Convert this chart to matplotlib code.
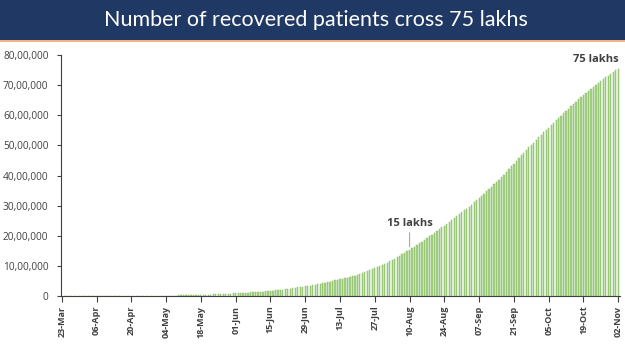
import matplotlib
matplotlib.use("Agg")
import matplotlib.pyplot as plt
from matplotlib.patches import Rectangle
from matplotlib.ticker import FuncFormatter
import datetime as dt

start = dt.date(2020, 3, 23)

recovered = [
    # Mar 23-31
    40, 43, 45, 66, 79, 95, 100, 124, 150,
    # Apr
    156, 169, 191, 267, 326, 352, 411, 473, 565, 655,
    765, 857, 1036, 1190, 1344, 1515, 1767, 2015, 2302, 2547,
    3252, 3870, 4325, 4749, 5063, 5804, 6185, 7027, 7697, 8325,
    # May
    9065, 10019, 10633, 11707, 12727, 14183, 15267, 16540, 17847, 19358,
    20917, 22455, 24386, 26235, 27920, 30153, 34109, 36824, 39174, 42298,
    45300, 48534, 51784, 54441, 57721, 60491, 64426, 67692, 71106, 82370, 86984,
    # Jun
    91819, 95527, 100303, 104107, 109462, 114073, 119293, 124095, 129215, 135206,
    141029, 147195, 154330, 162379, 169798, 180013, 186935, 194325, 204711, 213831,
    227756, 237196, 248190, 258685, 271697, 285637, 295881, 309713, 321723, 334822,
    # Jul
    347979, 359860, 379892, 394227, 409083, 424433, 439948, 456831, 476378, 495513,
    515386, 534621, 553471, 571460, 592032, 612815, 635757, 653751, 677423, 700087,
    724578, 753050, 782607, 817209, 849432, 885577, 917568, 952744, 988030, 1020582, 1057805,
    # Aug
    1094374, 1145629, 1186203, 1230509, 1282215, 1328336, 1378105, 1427005, 1480884, 1535743,
    1583489, 1639599, 1695982, 1751555, 1808936, 1862258, 1919842, 1977779, 2037870, 2096664,
    2158946, 2222577, 2280566, 2338035, 2404585, 2467758, 2523771, 2583948, 2648998, 2713933, 2774801,
    # Sep
    2839882, 2901908, 2970492, 3037151, 3107223, 3180865, 3250429, 3324466, 3398844, 3471783,
    3542663, 3624196, 3702595, 3780107, 3859399, 3942360, 4025079, 4112551, 4208431, 4303043,
    4397330, 4497867, 4587613, 4674987, 4756164, 4841662, 4941627, 5016520, 5087478, 5187825,
    # Oct
    5273201, 5352078, 5427706, 5501146, 5586703, 5662490, 5744693, 5827704, 5906069, 5988822,
    6077976, 6149535, 6224011, 6301927, 6383441, 6453779, 6524595, 6601323, 6663608, 6733328,
    6795103, 6874518, 6948497, 7016046, 7078123, 7137228, 7201070, 7259509, 7315989, 7373375, 7432829,
    # Nov
    7491513, 7544798,
]

dates = [start + dt.timedelta(days=i) for i in range(len(recovered))]
tick_labels = ["23-Mar", "06-Apr", "20-Apr", "04-May", "18-May", "01-Jun", "15-Jun",
               "29-Jun", "13-Jul", "27-Jul", "10-Aug", "24-Aug", "07-Sep", "21-Sep",
               "05-Oct", "19-Oct", "02-Nov"]
yticks = [0, 1000000, 2000000, 3000000, 4000000, 5000000, 6000000, 7000000, 8000000]
ann_15_label = "15 lakhs"
ann_15_date = "10-Aug"
ann_75_label = "75 lakhs"
title = "Number of recovered patients cross 75 lakhs"

plt.rcParams['font.family'] = ['Open Sans', 'DejaVu Sans']

fig = plt.figure(figsize=(6.25, 3.51), dpi=100)
fig.patch.set_facecolor("white")

# Title banner
fig.patches.append(Rectangle((0, 1 - 40/351), 1, 40/351, transform=fig.transFigure,
                             facecolor="#1f3864", edgecolor="none", zorder=0))
fig.patches.append(Rectangle((0, 1 - 42/351), 1, 2/351, transform=fig.transFigure,
                             facecolor="#f4b183", edgecolor="none", zorder=0))
fig.text(0.505, 1 - 20/351, title, color="white", ha="center", va="center",
         fontsize=15.5, family=["Lato", "DejaVu Sans"])

ax = fig.add_axes([61/625, 1 - 296/351, (620 - 61)/625, (296 - 55)/351])
x = list(range(len(recovered)))
ax.bar(x, recovered, width=0.5, color="#a9d18e", edgecolor="#86bf60", linewidth=0.35)

ax.set_xlim(-0.3, len(recovered) - 0.3)
ax.set_ylim(0, 8000000)

label_to_idx = {d.strftime("%d-%b"): i for i, d in enumerate(dates)}
ax.set_xticks([label_to_idx[l] for l in tick_labels])
ax.set_xticklabels(tick_labels, rotation=90, fontsize=6.5, fontweight="bold", color="#404040")
ax.set_yticks(yticks)

def indian(v, pos):
    v = int(round(v))
    if v == 0:
        return "0"
    s = str(v)
    last3 = s[-3:]
    rest = s[:-3]
    parts = []
    while len(rest) > 2:
        parts.insert(0, rest[-2:])
        rest = rest[:-2]
    if rest:
        parts.insert(0, rest)
    return ",".join(parts + [last3])

ax.yaxis.set_major_formatter(FuncFormatter(indian))
ax.tick_params(axis="y", labelsize=7.3, colors="#404040", length=3, width=0.8, pad=6)
ax.tick_params(axis="x", length=4, width=0.8, colors="#404040", pad=3)
for s in ["top", "right"]:
    ax.spines[s].set_visible(False)
for s in ["left", "bottom"]:
    ax.spines[s].set_color("#404040")
    ax.spines[s].set_linewidth(0.8)

i15 = label_to_idx[ann_15_date]
ax.annotate(ann_15_label, xy=(i15, recovered[i15] + 100000),
            xytext=(i15, recovered[i15] + 700000),
            ha="center", va="bottom", fontsize=8, fontweight="bold", color="#404040",
            arrowprops=dict(arrowstyle="-", color="#a6a6a6", lw=0.8, shrinkA=1, shrinkB=0))
ax.text(len(recovered) - 10, recovered[-1] + 130000, ann_75_label, ha="center", va="bottom",
        fontsize=8, fontweight="bold", color="#404040")

fig.savefig("out.png", dpi=100)
